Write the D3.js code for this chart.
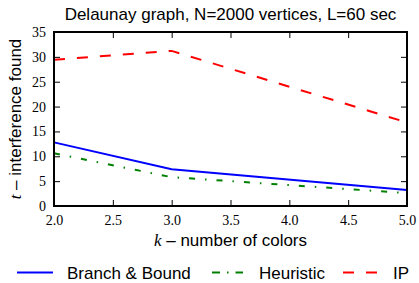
<!DOCTYPE html>
<html><head><meta charset="utf-8">
<script src="https://cdn.jsdelivr.net/npm/d3@7"></script>
<style>body{margin:0;background:#fff}svg{display:block}</style>
</head><body>
<script>
const kValues = [2, 3, 5];
const branchBound = [12.8, 7.4, 3.2];
const heuristic = [10.6, 5.8, 2.6];
const ip = [29.4, 31.2, 16.8];
const xTicks = [2.0, 2.5, 3.0, 3.5, 4.0, 4.5, 5.0];
const yTicks = [0, 5, 10, 15, 20, 25, 30, 35];
const seriesNames = ["Branch & Bound", "Heuristic", "IP"];

const W = 419, H = 283;
const m = {l: 54, r: 12, t: 32, b: 77};
const svg = d3.select("body").append("svg").attr("width", W).attr("height", H);
const x = d3.scaleLinear().domain([2, 5]).range([m.l, W - m.r]);
const y = d3.scaleLinear().domain([0, 35]).range([H - m.b, m.t]);

const series = [
  {name: seriesNames[0], vals: branchBound, color: "#0000ff", dash: null, w: 2},
  {name: seriesNames[1], vals: heuristic, color: "#008000", dash: "6,10,1.5,10", w: 2},
  {name: seriesNames[2], vals: ip, color: "#ff0000", dash: "11,12", w: 2}
];
const line = d3.line().x(d => x(d[0])).y(d => y(d[1]));
series.forEach(s => {
  svg.append("path").datum(kValues.map((k, i) => [k, s.vals[i]]))
    .attr("d", line).attr("fill", "none").attr("stroke", s.color)
    .attr("stroke-width", s.w).attr("stroke-dasharray", s.dash);
});

const tickFont = "'Liberation Serif', 'DejaVu Serif', serif";
const gxB = svg.append("g").attr("transform", `translate(0,${H - m.b})`)
  .call(d3.axisBottom(x).tickValues(xTicks).tickFormat(d3.format(".1f")).tickSizeInner(-6).tickSizeOuter(0).tickPadding(9));
const gxT = svg.append("g").attr("transform", `translate(0,${m.t})`)
  .call(d3.axisTop(x).tickValues(xTicks).tickFormat("").tickSizeInner(-6).tickSizeOuter(0));
const gyL = svg.append("g").attr("transform", `translate(${m.l},0)`)
  .call(d3.axisLeft(y).tickValues(yTicks).tickSizeInner(-6).tickSizeOuter(0).tickPadding(8));
const gyR = svg.append("g").attr("transform", `translate(${W - m.r},0)`)
  .call(d3.axisRight(y).tickValues(yTicks).tickFormat("").tickSizeInner(-6).tickSizeOuter(0));
[gxB, gxT, gyL, gyR].forEach(g => {
  g.select(".domain").remove();
  g.selectAll(".tick line").attr("stroke", "#000").attr("stroke-width", 1);
  g.selectAll("text").attr("font-family", tickFont).attr("font-size", 14).attr("fill", "#000");
});
svg.append("rect").attr("x", m.l).attr("y", m.t).attr("width", W - m.r - m.l).attr("height", H - m.b - m.t)
  .attr("fill", "none").attr("stroke", "#000").attr("stroke-width", 2);

const sans = "'Liberation Sans', Arial, sans-serif";
const fs = 17;
svg.append("text").attr("x", (m.l + W - m.r) / 2).attr("y", 19.5).attr("text-anchor", "middle")
  .attr("font-family", sans).attr("font-size", fs).text("Delaunay graph, N=2000 vertices, L=60 sec");

const xl = svg.append("text").attr("x", (m.l + W - m.r) / 2).attr("y", 246).attr("text-anchor", "middle")
  .attr("font-family", sans).attr("font-size", fs);
xl.append("tspan").attr("font-family", tickFont).attr("font-style", "italic").text("k");
xl.append("tspan").text(" \u2013 number of colors");

const yl = svg.append("text").attr("transform", `translate(21,${(m.t + H - m.b) / 2}) rotate(-90)`)
  .attr("text-anchor", "middle").attr("font-family", sans).attr("font-size", fs);
yl.append("tspan").attr("font-family", tickFont).attr("font-style", "italic").text("t");
yl.append("tspan").text(" \u2013 interference found");

const legX = [17, 212, 343];
const legLen = [36, 31, 36];
const legTextX = [67, 259, 393];
const legY = 272.5;
series.forEach((s, i) => {
  svg.append("line").attr("x1", legX[i]).attr("x2", legX[i] + legLen[i]).attr("y1", legY).attr("y2", legY)
    .attr("stroke", s.color).attr("stroke-width", s.w)
    .attr("stroke-dasharray", i === 1 ? "8,7,1.5,7" : s.dash);
  svg.append("text").attr("x", legTextX[i]).attr("y", 279).attr("font-family", sans)
    .attr("font-size", fs).text(s.name);
});
</script>
</body></html>
